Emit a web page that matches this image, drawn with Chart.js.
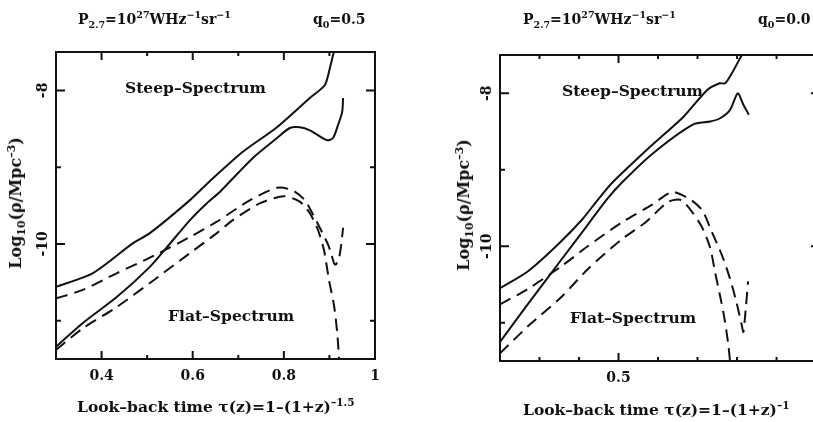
<!DOCTYPE html>
<html>
<head>
<meta charset="utf-8">
<script src="https://cdn.jsdelivr.net/npm/chart.js@4.4.1/dist/chart.umd.min.js"></script>
<style>
  html, body { margin: 0; padding: 0; background: #fff; overflow: hidden; }
  #page { position: relative; width: 813px; height: 422px; overflow: hidden; }
  canvas { position: absolute; top: 0; }
  .txt { position: absolute; font-family: 'DejaVu Serif', serif; font-weight: bold; font-size: 14px;
         color: #111; white-space: nowrap; line-height: 1; transform: translateY(-50%); }
  .txt sup, .txt sub { font-size: 0.68em; line-height: 0; }
  .big { font-size: 15.5px; }
  .ytitle { font-size: 16px; transform: translate(-50%, -50%) rotate(-90deg); }
</style>
</head>
<body>
<div id="page">
  <canvas id="q05" width="410" height="422" style="left:0"></canvas>
  <canvas id="q00" width="420" height="422" style="left:410px"></canvas>

  <div class="txt" style="left:78px;top:19px">P<sub>2.7</sub>=10<sup>27</sup>WHz<sup>−1</sup>sr<sup>−1</sup></div>
  <div class="txt" style="left:313px;top:19px">q<sub>0</sub>=0.5</div>
  <div class="txt" style="left:523px;top:19px">P<sub>2.7</sub>=10<sup>27</sup>WHz<sup>−1</sup>sr<sup>−1</sup></div>
  <div class="txt" style="left:758px;top:19px">q<sub>0</sub>=0.0</div>

  <div class="txt big" style="left:125px;top:88px">Steep–Spectrum</div>
  <div class="txt big" style="left:168px;top:316px">Flat–Spectrum</div>
  <div class="txt big" style="left:562px;top:91px">Steep–Spectrum</div>
  <div class="txt big" style="left:570px;top:318px">Flat–Spectrum</div>

  <div class="txt big" style="left:77px;top:407px">Look–back time τ(z)=1–(1+z)<sup>–1.5</sup></div>
  <div class="txt big" style="left:523px;top:410px">Look–back time τ(z)=1–(1+z)<sup>–1</sup></div>

  <div class="txt ytitle" style="left:16px;top:203px">Log<sub>10</sub>(ρ/Mpc<sup>–3</sup>)</div>
  <div class="txt ytitle" style="left:464px;top:205px">Log<sub>10</sub>(ρ/Mpc<sup>–3</sup>)</div>
</div>
<script>
// q0 = 0.5 panel, look-back time tau vs log10 density
const q05SteepUpper = [[0.3,-10.56],[0.381,-10.38],[0.469,-9.99],[0.506,-9.86],[0.594,-9.43],[0.638,-9.18],[0.71,-8.8],[0.785,-8.48],[0.857,-8.1],[0.89,-7.93],[0.901,-7.71],[0.908,-7.54],[0.915,-7.4]];
const q05SteepLower = [[0.3,-11.34],[0.359,-11.03],[0.434,-10.69],[0.506,-10.3],[0.544,-10.04],[0.594,-9.69],[0.631,-9.47],[0.66,-9.32],[0.732,-8.88],[0.785,-8.62],[0.813,-8.49],[0.835,-8.48],[0.857,-8.52],[0.895,-8.65],[0.908,-8.62],[0.919,-8.45],[0.928,-8.28],[0.93,-8.1]];
const q05FlatUpper = [[0.3,-10.71],[0.359,-10.6],[0.434,-10.38],[0.506,-10.18],[0.594,-9.91],[0.653,-9.71],[0.726,-9.43],[0.785,-9.27],[0.818,-9.3],[0.846,-9.43],[0.864,-9.62],[0.884,-9.85],[0.897,-10.01],[0.903,-10.11],[0.91,-10.25],[0.914,-10.27],[0.921,-10.18],[0.925,-10.05],[0.93,-9.79]];
const q05FlatLower = [[0.3,-11.38],[0.359,-11.1],[0.434,-10.82],[0.506,-10.51],[0.594,-10.12],[0.653,-9.86],[0.688,-9.69],[0.748,-9.47],[0.8,-9.38],[0.835,-9.45],[0.857,-9.6],[0.875,-9.82],[0.888,-10.08],[0.899,-10.47],[0.91,-10.8],[0.917,-11.15],[0.921,-11.49],[0.923,-11.7]];

// q0 = 0.0 panel
const q00SteepUpper = [[0.35,-10.55],[0.385,-10.33],[0.423,-9.98],[0.454,-9.65],[0.474,-9.39],[0.492,-9.17],[0.54,-8.7],[0.582,-8.31],[0.612,-7.96],[0.628,-7.87],[0.635,-7.87],[0.644,-7.73],[0.656,-7.5],[0.662,-7.4]];
const q00SteepLower = [[0.35,-11.25],[0.385,-10.76],[0.428,-10.17],[0.461,-9.72],[0.485,-9.39],[0.504,-9.17],[0.543,-8.79],[0.594,-8.41],[0.616,-8.37],[0.628,-8.33],[0.641,-8.22],[0.651,-8.0],[0.658,-8.15],[0.665,-8.28]];
const q00FlatUpper = [[0.35,-10.76],[0.385,-10.56],[0.428,-10.26],[0.461,-10.0],[0.504,-9.69],[0.542,-9.46],[0.568,-9.29],[0.591,-9.39],[0.606,-9.53],[0.618,-9.81],[0.631,-10.12],[0.641,-10.42],[0.649,-10.72],[0.656,-11.03],[0.658,-11.12],[0.661,-10.82],[0.664,-10.46]];
const q00FlatLower = [[0.35,-11.4],[0.385,-11.05],[0.428,-10.66],[0.461,-10.3],[0.504,-9.91],[0.534,-9.69],[0.563,-9.42],[0.58,-9.4],[0.604,-9.72],[0.616,-10.02],[0.622,-10.33],[0.628,-10.62],[0.634,-10.94],[0.639,-11.29],[0.642,-11.6]];

// ticks
const q05TauLabels = [0.4, 0.6, 0.8, 1];
const q05TauMinor = [0.5, 0.7, 0.9];
const q00TauLabels = [0.5];
const q00TauMinor = [0.4, 0.45, 0.55, 0.6, 0.65, 0.7];
const logRhoLabels = [-10, -8];
const logRhoMinor = [-11, -9];

const ink = '#111';
const tickFont = { family: 'DejaVu Serif', weight: 'bold', size: 14 };

// box with inward tick marks on all four sides
const framePlugin = {
  id: 'frame',
  afterDatasetsDraw(chart, args, opts) {
    const { ctx, chartArea: a, scales: { x, y } } = chart;
    ctx.save();
    ctx.strokeStyle = ink;
    ctx.lineWidth = 2;
    ctx.strokeRect(a.left, a.top, a.right - a.left, a.bottom - a.top);
    ctx.beginPath();
    const xMark = (v, len) => {
      const px = x.getPixelForValue(v);
      ctx.moveTo(px, a.bottom); ctx.lineTo(px, a.bottom - len);
      ctx.moveTo(px, a.top); ctx.lineTo(px, a.top + len);
    };
    const yMark = (v, len) => {
      const py = y.getPixelForValue(v);
      ctx.moveTo(a.left, py); ctx.lineTo(a.left + len, py);
      ctx.moveTo(a.right, py); ctx.lineTo(a.right - len, py);
    };
    opts.xMajor.forEach(v => xMark(v, 8));
    opts.xMinor.forEach(v => xMark(v, 4));
    logRhoLabels.forEach(v => yMark(v, 9));
    logRhoMinor.forEach(v => yMark(v, 5));
    ctx.stroke();
    ctx.restore();
  }
};

const line = (pts, dashed) => ({
  data: pts.map(p => ({ x: p[0], y: p[1] })),
  showLine: true,
  borderColor: ink,
  borderWidth: 2,
  borderDash: dashed ? [12, 7] : [],
  pointRadius: 0,
  tension: 0.25,
  fill: false
});

const makePanel = (id, o) => new Chart(document.getElementById(id), {
  type: 'scatter',
  data: { datasets: o.curves },
  options: {
    responsive: false,
    animation: false,
    events: [],
    layout: { padding: { top: o.top, right: o.right, left: 0, bottom: 0 } },
    plugins: {
      legend: { display: false },
      tooltip: { enabled: false },
      frame: { xMajor: o.xMajor, xMinor: o.xMinor }
    },
    scales: {
      x: {
        type: 'linear', min: o.xMin, max: o.xMax,
        grid: { display: false, drawTicks: false }, border: { display: false },
        afterBuildTicks: s => { s.ticks = o.xMajor.map(v => ({ value: v })); },
        afterFit: s => { s.height = 422 - o.bottom; },
        ticks: { autoSkip: false, maxRotation: 0, padding: 9, color: ink, font: tickFont, callback: v => String(v) }
      },
      y: {
        type: 'linear', min: -11.5, max: -7.5,
        grid: { display: false, drawTicks: false }, border: { display: false },
        afterBuildTicks: s => { s.ticks = logRhoLabels.map(v => ({ value: v })); },
        afterFit: s => { s.width = o.left; },
        ticks: { autoSkip: false, minRotation: 90, maxRotation: 90, crossAlign: 'center', padding: 0,
                 color: ink, font: tickFont, callback: v => String(v) }
      }
    }
  },
  plugins: [framePlugin]
});

makePanel('q05', {
  curves: [line(q05SteepUpper), line(q05SteepLower), line(q05FlatUpper, true), line(q05FlatLower, true)],
  xMin: 0.3, xMax: 1.0, xMajor: q05TauLabels, xMinor: q05TauMinor,
  left: 56, right: 410 - 375, top: 52, bottom: 359
});

makePanel('q00', {
  curves: [line(q00SteepUpper), line(q00SteepLower), line(q00FlatUpper, true), line(q00FlatLower, true)],
  xMin: 0.35, xMax: 0.755, xMajor: q00TauLabels, xMinor: q00TauMinor,
  left: 90, right: 420 - 410, top: 55, bottom: 361
});
</script>
</body>
</html>
